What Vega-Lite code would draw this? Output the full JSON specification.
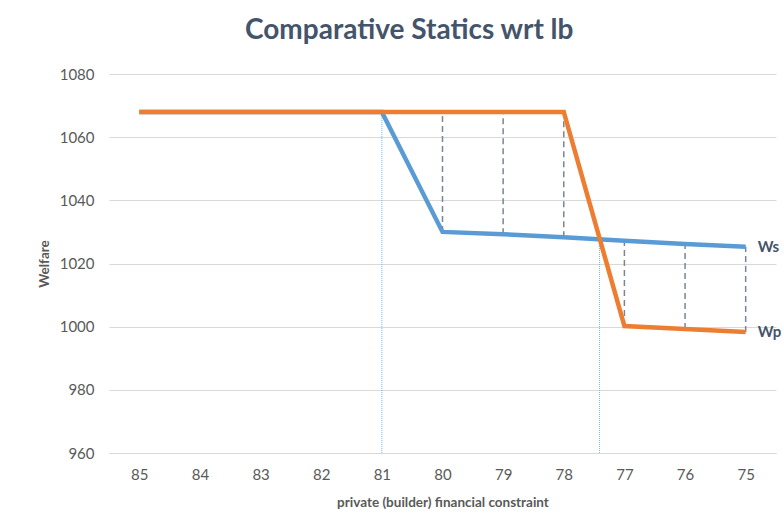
{
  "$schema": "https://vega.github.io/schema/vega-lite/v6.json",
  "width": 667,
  "height": 379,
  "autosize": {"type": "none"},
  "padding": {"left": 109, "top": 74, "right": 8, "bottom": 78},
  "background": "white",
  "config": {
    "view": {"stroke": null},
    "font": "Lato"
  },
  "title": {
    "text": "Comparative Statics wrt lb",
    "font": "Lato",
    "fontSize": 28,
    "fontWeight": "bold",
    "color": "#44546A",
    "anchor": "middle",
    "frame": "bounds",
    "offset": 22
  },
  "datasets": {
    "lines": [
      {"lb": 85, "Ws": 1068, "Wp": 1068},
      {"lb": 84, "Ws": 1068, "Wp": 1068},
      {"lb": 83, "Ws": 1068, "Wp": 1068},
      {"lb": 82, "Ws": 1068, "Wp": 1068},
      {"lb": 81, "Ws": 1068, "Wp": 1068},
      {"lb": 80, "Ws": 1030, "Wp": 1068},
      {"lb": 79, "Ws": 1029.3, "Wp": 1068},
      {"lb": 78, "Ws": 1028.3, "Wp": 1068},
      {"lb": 77, "Ws": 1027.2, "Wp": 1000.2},
      {"lb": 76, "Ws": 1026.2, "Wp": 999.3},
      {"lb": 75, "Ws": 1025.3, "Wp": 998.3}
    ],
    "dashed": [
      {"lb": 80, "lo": 1030, "hi": 1068},
      {"lb": 79, "lo": 1029.3, "hi": 1068},
      {"lb": 78, "lo": 1028.3, "hi": 1068},
      {"lb": 77, "lo": 1000.2, "hi": 1027.2},
      {"lb": 76, "lo": 999.3, "hi": 1026.2},
      {"lb": 75, "lo": 998.3, "hi": 1025.3}
    ],
    "dotted": [
      {"lb": 81, "lo": 960, "hi": 1068},
      {"lb": 77.41, "lo": 960, "hi": 1027.6}
    ],
    "labels": [
      {"lb": 75, "v": 1025.3, "name": "Ws"},
      {"lb": 75, "v": 998.3, "name": "Wp"}
    ]
  },
  "layer": [
    {
      "data": {"name": "dotted"},
      "mark": {"type": "rule", "color": "#7FB2E0", "strokeWidth": 1, "strokeDash": [1, 1]},
      "encoding": {
        "x": {
          "field": "lb", "type": "quantitative",
          "scale": {"domain": [74.5, 85.5], "reverse": true, "nice": false, "zero": false},
          "axis": {
            "values": [85, 84, 83, 82, 81, 80, 79, 78, 77, 76, 75],
            "format": "d",
            "grid": false,
            "ticks": false,
            "domainColor": "#d9d9d9",
            "labelPadding": 14,
            "labelFontSize": 15,
            "labelColor": "#595959",
            "labelFont": "Lato",
            "title": "private (builder) financial constraint",
            "titleFont": "Lato",
            "titleFontSize": 13.5,
            "titleFontWeight": "bold",
            "titleColor": "#595959",
            "titlePadding": 13
          }
        },
        "y": {
          "field": "lo", "type": "quantitative",
          "scale": {"domain": [960, 1080], "nice": false, "zero": false},
          "axis": {
            "values": [960, 980, 1000, 1020, 1040, 1060, 1080],
            "format": "d",
            "grid": true,
            "gridColor": "#d9d9d9",
            "domain": false,
            "ticks": false,
            "labelPadding": 15,
            "labelFontSize": 15,
            "labelColor": "#595959",
            "labelFont": "Lato",
            "title": "Welfare",
            "titleFont": "Lato",
            "titleFontSize": 13.5,
            "titleFontWeight": "bold",
            "titleColor": "#595959",
            "titlePadding": 8
          }
        },
        "y2": {"field": "hi"}
      }
    },
    {
      "data": {"name": "dashed"},
      "mark": {"type": "rule", "color": "#7A8597", "strokeWidth": 1.5, "strokeDash": [6, 4]},
      "encoding": {
        "x": {"field": "lb", "type": "quantitative"},
        "y": {"field": "lo", "type": "quantitative"},
        "y2": {"field": "hi"}
      }
    },
    {
      "data": {"name": "lines"},
      "mark": {"type": "line", "color": "#5B9BD5", "strokeWidth": 4.5},
      "encoding": {
        "x": {"field": "lb", "type": "quantitative"},
        "y": {"field": "Ws", "type": "quantitative"}
      }
    },
    {
      "data": {"name": "lines"},
      "mark": {"type": "line", "color": "#ED7D31", "strokeWidth": 4.5},
      "encoding": {
        "x": {"field": "lb", "type": "quantitative"},
        "y": {"field": "Wp", "type": "quantitative"}
      }
    },
    {
      "data": {"name": "labels"},
      "mark": {"type": "text", "align": "left", "baseline": "middle", "dx": 12, "fontSize": 15, "fontWeight": "bold", "color": "#44546A", "font": "Lato"},
      "encoding": {
        "x": {"field": "lb", "type": "quantitative"},
        "y": {"field": "v", "type": "quantitative"},
        "text": {"field": "name"}
      }
    }
  ]
}
